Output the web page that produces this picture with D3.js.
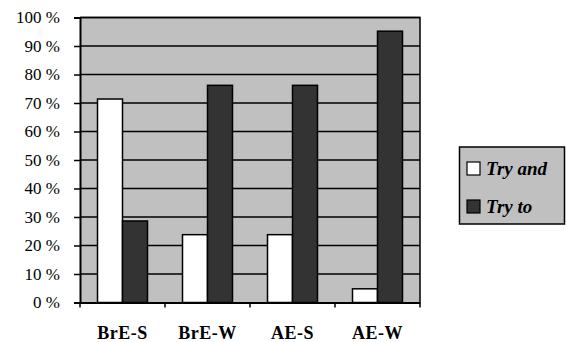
<!DOCTYPE html>
<html><head><meta charset="utf-8">
<script src="https://cdn.jsdelivr.net/npm/d3@7"></script>
<style>body{margin:0;background:#fff}svg{display:block}</style>
</head><body>
<script>
const categories = ["BrE-S", "BrE-W", "AE-S", "AE-W"];
const seriesNames = ["Try and", "Try to"];
const tryAnd = [71.4, 23.8, 23.8, 4.8];
const tryTo = [28.6, 76.2, 76.2, 95.2];
const yTicks = [0,10,20,30,40,50,60,70,80,90,100];
const colors = ["#ffffff", "#333333"];

const W=566,H=342;
const svg=d3.select("body").append("svg").attr("width",W).attr("height",H);
const L=80,R=420,T=17.5,B=302.5;
const x0=d3.scaleBand().domain(categories).range([L,R]);
const x1=d3.scaleBand().domain(seriesNames).range([17.5,67.5]);
const y=d3.scaleLinear().domain([0,100]).range([B,T]);

svg.append("rect").attr("x",L).attr("y",T).attr("width",R-L).attr("height",B-T).attr("fill","#c0c0c0");
svg.append("g").selectAll("line").data(yTicks.filter(d=>d>0)).join("line")
 .attr("x1",L).attr("x2",R).attr("y1",d=>y(d)).attr("y2",d=>y(d)).attr("stroke","#000").attr("stroke-width",1.5);

const data=categories.map((c,i)=>({c,vals:[tryAnd[i],tryTo[i]]}));
svg.append("g").selectAll("g").data(data).join("g").attr("transform",d=>`translate(${x0(d.c)},0)`)
 .selectAll("rect").data(d=>d.vals.map((v,j)=>({v,s:seriesNames[j],j}))).join("rect")
 .attr("x",d=>x1(d.s)).attr("width",x1.bandwidth()).attr("y",d=>y(d.v)).attr("height",d=>B-y(d.v))
 .attr("fill",d=>colors[d.j]).attr("stroke","#000").attr("stroke-width",1.5);

svg.append("path").attr("d",`M${L},${T}H${R}V${B}`).attr("fill","none").attr("stroke","#000").attr("stroke-width",1.5);

const serif='"Liberation Serif","DejaVu Serif",serif';
const ya=svg.append("g").attr("transform",`translate(${L},0)`).call(d3.axisLeft(y).tickValues(yTicks).tickSize(6).tickPadding(14).tickFormat(d=>d+" %"));
ya.attr("font-family",null).attr("font-size",null);
ya.select(".domain").attr("stroke-width",2);
ya.selectAll(".tick line").attr("stroke-width",1.5);
ya.selectAll("text").style("font-family",serif).style("font-size","17px").attr("fill","#000");

const xa=svg.append("g").attr("transform",`translate(0,${B})`).call(d3.axisBottom(x0).tickSize(0).tickPadding(24));
xa.attr("font-family",null).attr("font-size",null);
xa.select(".domain").attr("stroke-width",2);
xa.selectAll("text").style("font-family",serif).style("font-size","18px").style("font-weight","bold").style("letter-spacing","0.5px").attr("fill","#000");
svg.append("g").selectAll("line").data(d3.range(categories.length+1)).join("line")
 .attr("x1",i=>L+i*x0.step()).attr("x2",i=>L+i*x0.step()).attr("y1",B).attr("y2",B+5).attr("stroke","#000").attr("stroke-width",1.5);

const lg=svg.append("g");
lg.append("rect").attr("x",459.5).attr("y",147).attr("width",105).attr("height",77).attr("fill","#c0c0c0").attr("stroke","#000").attr("stroke-width",1.5);
seriesNames.forEach((s,i)=>{
  const cy=168+i*38;
  lg.append("rect").attr("x",467).attr("y",cy-6).attr("width",13).attr("height",13).attr("fill",colors[i]).attr("stroke","#000").attr("stroke-width",1.2);
  lg.append("text").attr("x",486).attr("y",cy+7).text(s).style("font-family",serif).style("font-size","19px").style("font-weight","bold").style("font-style","italic");
});
</script>
</body></html>
